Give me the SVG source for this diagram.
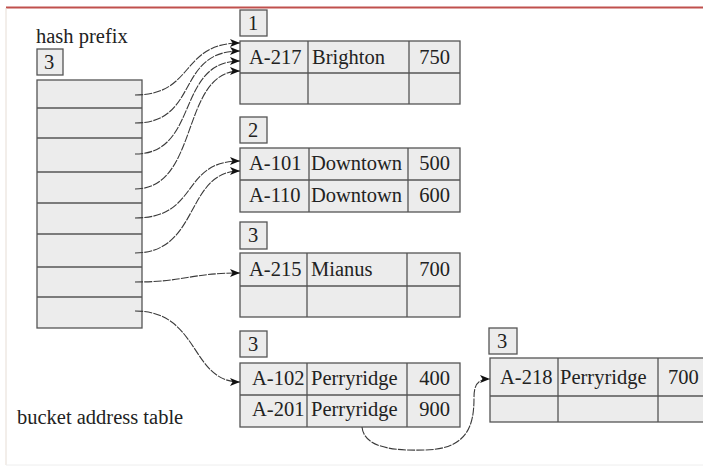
<svg xmlns="http://www.w3.org/2000/svg" width="703" height="466" viewBox="0 0 703 466">
<style>
  text { font-family: "Liberation Serif", "Times New Roman", serif; font-size: 20.5px; fill: #222; }
  .cell { fill: #ececec; stroke: #555; stroke-width: 1.3; }
  .line { stroke: #555; stroke-width: 1.3; fill: none; }
  .conn { fill: none; stroke: #3a3a3a; stroke-width: 1.1; stroke-dasharray: 8 1.2; }
  .end { text-anchor: end; }
</style>
<defs>
  <marker id="arr" viewBox="0 0 10 8" refX="10" refY="4" markerWidth="10" markerHeight="8" markerUnits="userSpaceOnUse" orient="auto">
    <path d="M0,0 L10,4 L0,8 L2.5,4 Z" fill="#111"/>
  </marker>
</defs>
<rect x="0" y="0" width="703" height="466" fill="#fff"/>
<line x1="6" y1="7.5" x2="703" y2="7.5" stroke="#c0504d" stroke-width="2"/>
<line x1="6" y1="8" x2="6" y2="465" stroke="#e6ddd5" stroke-width="1"/>
<line x1="6" y1="465" x2="703" y2="465" stroke="#eee" stroke-width="1"/>

<g id="bucket-address-table">
  <text x="36" y="43">hash prefix</text>
  <rect class="cell" x="37" y="49" width="26" height="26"/>
  <text x="44" y="69">3</text>
  <rect class="cell" x="37" y="80" width="105" height="248"/>
  <path class="line" d="M37,108H142M37,138H142M37,172H142M37,203H142M37,234H142M37,267H142M37,297H142"/>
  <text x="17" y="424">bucket address table</text>
</g>

<g id="bucket1">
  <rect class="cell" x="240" y="10" width="27" height="26"/>
  <text x="248" y="30">1</text>
  <rect class="cell" x="240" y="41" width="220" height="63"/>
  <path class="line" d="M240,73H460M308,41V104M409,41V104"/>
  <text x="249" y="64">A-217</text>
  <text x="312" y="64">Brighton</text>
  <text class="end" x="450" y="64">750</text>
</g>

<g id="bucket2">
  <rect class="cell" x="240" y="117" width="27" height="26"/>
  <text x="248" y="137">2</text>
  <rect class="cell" x="240" y="148" width="220" height="64"/>
  <path class="line" d="M240,180H460M309,148V212M408,148V212"/>
  <text x="249" y="170">A-101</text>
  <text x="311" y="170">Downtown</text>
  <text class="end" x="450" y="170">500</text>
  <text x="249" y="202">A-110</text>
  <text x="311" y="202">Downtown</text>
  <text class="end" x="450" y="202">600</text>
</g>

<g id="bucket3a">
  <rect class="cell" x="240" y="222" width="27" height="27"/>
  <text x="248" y="242">3</text>
  <rect class="cell" x="240" y="253" width="220" height="64"/>
  <path class="line" d="M240,286H460M307,253V317M407,253V317"/>
  <text x="249" y="276">A-215</text>
  <text x="311" y="276">Mianus</text>
  <text class="end" x="450" y="276">700</text>
</g>

<g id="bucket3b">
  <rect class="cell" x="240" y="331" width="27" height="26"/>
  <text x="248" y="351">3</text>
  <rect class="cell" x="240" y="363" width="220" height="64"/>
  <path class="line" d="M240,395H460M307,363V427M407,363V427"/>
  <text x="252" y="385">A-102</text>
  <text x="311" y="385">Perryridge</text>
  <text class="end" x="450" y="385">400</text>
  <text x="252" y="416">A-201</text>
  <text x="311" y="416">Perryridge</text>
  <text class="end" x="450" y="416">900</text>
</g>

<g id="bucket3c">
  <rect class="cell" x="489" y="328" width="28" height="26"/>
  <text x="497" y="348">3</text>
  <rect class="cell" x="490" y="358" width="220" height="64"/>
  <path class="line" d="M490,396H710M558,358V422M658,358V422"/>
  <text x="500" y="384">A-218</text>
  <text x="560" y="384">Perryridge</text>
  <text x="668" y="384">700</text>
</g>

<g id="connectors">
  <path class="conn" marker-end="url(#arr)" d="M135,95 C195,95 180,43 240,43"/>
  <path class="conn" marker-end="url(#arr)" d="M135,123 C200,123 175,51 240,51"/>
  <path class="conn" marker-end="url(#arr)" d="M135,154 C200,154 175,61 240,61"/>
  <path class="conn" marker-end="url(#arr)" d="M135,189 C200,189 180,71 240,71"/>
  <path class="conn" marker-end="url(#arr)" d="M135,218 C200,218 180,161 240,161"/>
  <path class="conn" marker-end="url(#arr)" d="M135,253 C200,253 185,171 240,171"/>
  <path class="conn" marker-end="url(#arr)" d="M135,282 C185,282 190,273 240,273"/>
  <path class="conn" marker-end="url(#arr)" d="M135,311 C200,311 190,382 240,382"/>
  <path class="conn" marker-end="url(#arr)" d="M362,427 C364,448 395,451 425,450 C468,449 474,425 474,398 C474,384 478,379 490,379"/>
</g>
</svg>
